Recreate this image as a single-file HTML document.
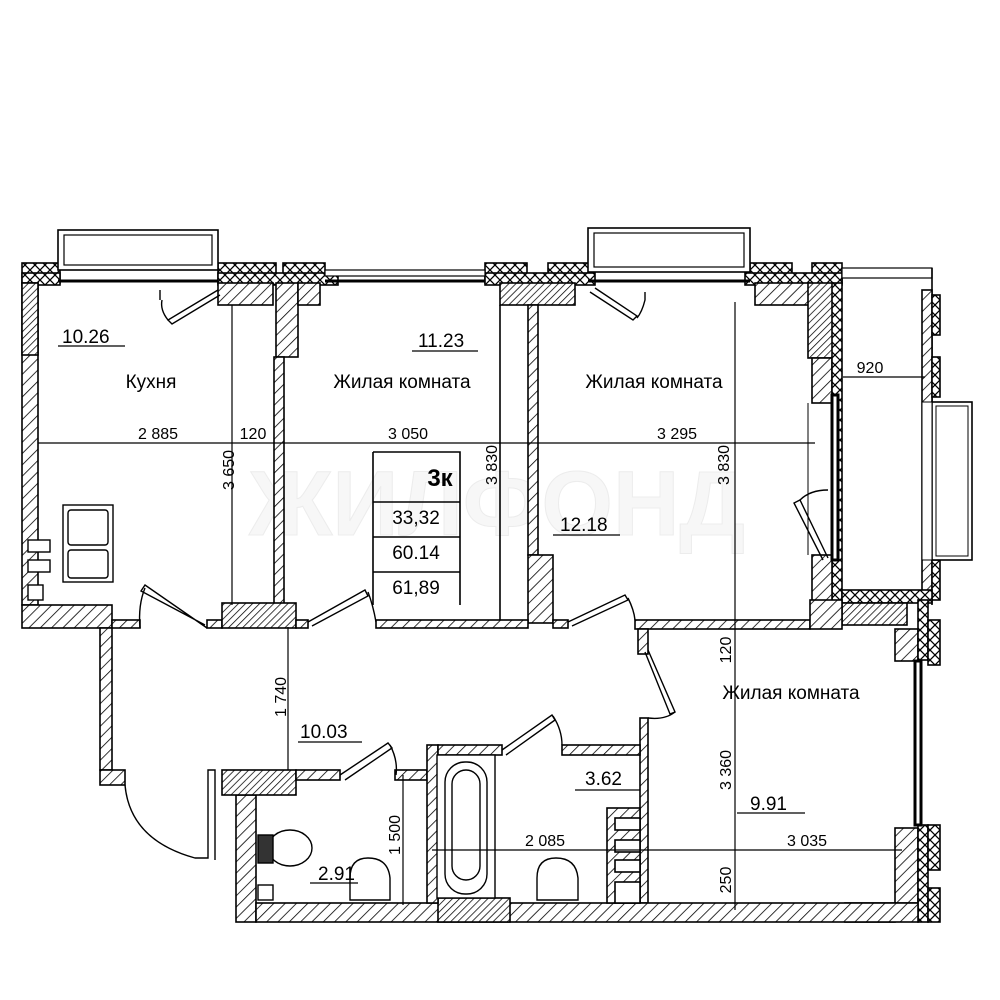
<!DOCTYPE html>
<html><head><meta charset="utf-8"><style>
html,body{margin:0;padding:0;background:#fff;}
svg{display:block;font-family:"Liberation Sans",sans-serif;}
</style></head><body>
<svg width="1000" height="1000" viewBox="0 0 1000 1000" xmlns="http://www.w3.org/2000/svg">
<defs>
<pattern id="h" width="8" height="8" patternUnits="userSpaceOnUse" patternTransform="rotate(45)">
<rect width="8" height="8" fill="#fff"/><line x1="0" y1="0" x2="0" y2="8" stroke="#000" stroke-width="1.6"/></pattern>
<pattern id="hd" width="5" height="5" patternUnits="userSpaceOnUse" patternTransform="rotate(45)">
<rect width="5" height="5" fill="#fff"/><line x1="0" y1="0" x2="0" y2="5" stroke="#000" stroke-width="1.5"/></pattern>
<pattern id="x" width="10" height="10" patternUnits="userSpaceOnUse">
<rect width="10" height="10" fill="#fff"/><path d="M0 0L10 10M10 0L0 10" stroke="#000" stroke-width="1.3"/></pattern>
</defs>
<!-- watermark -->
<text x="497" y="535" font-size="92" font-weight="bold" fill="#f7f7f7" stroke="#ececec" stroke-width="1" text-anchor="middle" font-family="Liberation Sans, sans-serif">ЖИЛФОНД</text>
<g stroke="#000" stroke-width="1.6">
<rect x="22" y="263" width="38" height="20" fill="url(#x)"/>
<rect x="218" y="263" width="58" height="20" fill="url(#x)"/>
<rect x="283" y="263" width="42" height="20" fill="url(#x)"/>
<rect x="485" y="263" width="42" height="20" fill="url(#x)"/>
<rect x="548" y="263" width="42" height="20" fill="url(#x)"/>
<rect x="750" y="263" width="42" height="20" fill="url(#x)"/>
<rect x="812" y="263" width="30" height="20" fill="url(#x)"/>
<rect x="218" y="273" width="120" height="12" fill="url(#x)"/>
<rect x="485" y="273" width="110" height="12" fill="url(#x)"/>
<rect x="745" y="273" width="97" height="12" fill="url(#x)"/>
<rect x="22" y="273" width="38" height="12" fill="url(#x)"/>
<rect x="58" y="230" width="160" height="40" fill="#fff"/>
<rect x="64" y="235" width="148" height="30" fill="none" stroke-width="1.2"/>
<line x1="58" y1="281" x2="218" y2="281" stroke-width="3"/>
<line x1="325" y1="281" x2="485" y2="281" stroke-width="3"/>
<rect x="325" y="270" width="160" height="6" fill="#fff" stroke-width="1.2"/>
<rect x="588" y="228" width="162" height="44" fill="#fff"/>
<rect x="594" y="233" width="150" height="34" fill="none" stroke-width="1.2"/>
<line x1="588" y1="281" x2="750" y2="281" stroke-width="3"/>
<rect x="218" y="283" width="55" height="22" fill="url(#h)"/>
<rect x="276" y="283" width="22" height="74" fill="url(#h)"/>
<rect x="298" y="283" width="22" height="22" fill="url(#h)"/>
<rect x="500" y="283" width="75" height="22" fill="url(#hd)"/>
<rect x="755" y="283" width="55" height="22" fill="url(#h)"/>
<rect x="808" y="283" width="25" height="75" fill="url(#hd)"/>
<rect x="812" y="358" width="20" height="45" fill="url(#h)"/>
<rect x="22" y="283" width="16" height="322" fill="url(#h)"/>
<rect x="22" y="283" width="16" height="72" fill="url(#hd)"/>
<rect x="274" y="357" width="10" height="248" fill="url(#h)"/>
<line x1="500" y1="305" x2="500" y2="620"/>
<rect x="528" y="305" width="10" height="250" fill="url(#h)"/>
<rect x="528" y="555" width="25" height="68" fill="url(#h)"/>
<rect x="832" y="283" width="10" height="320" fill="url(#x)"/>
<rect x="812" y="555" width="20" height="48" fill="url(#h)"/>
<line x1="808" y1="403" x2="808" y2="555" stroke-width="1"/>
<rect x="832" y="395" width="6" height="165" fill="#fff" stroke-width="3"/>
<rect x="842" y="268" width="90" height="10" fill="#fff" stroke-width="1.2"/>
<line x1="932" y1="268" x2="932" y2="605"/>
<rect x="922" y="290" width="10" height="310" fill="url(#h)"/>
<rect x="932" y="295" width="8" height="40" fill="url(#x)"/>
<rect x="932" y="357" width="8" height="40" fill="url(#x)"/>
<rect x="932" y="560" width="8" height="40" fill="url(#x)"/>
<rect x="932" y="402" width="40" height="158" fill="#fff"/>
<rect x="936" y="406" width="32" height="150" fill="none" stroke-width="1"/>
<rect x="922" y="402" width="10" height="158" fill="#fff" stroke-width="1"/>
<rect x="842" y="590" width="90" height="13" fill="url(#x)"/>
<rect x="842" y="603" width="65" height="22" fill="url(#hd)"/>
<rect x="22" y="605" width="90" height="23" fill="url(#h)"/>
<rect x="112" y="620" width="28" height="8" fill="url(#h)"/>
<rect x="207" y="620" width="15" height="8" fill="url(#h)"/>
<rect x="222" y="603" width="74" height="25" fill="url(#hd)"/>
<rect x="296" y="620" width="12" height="8" fill="url(#h)"/>
<rect x="376" y="620" width="152" height="8" fill="url(#h)"/>
<rect x="553" y="620" width="15" height="8" fill="url(#h)"/>
<rect x="635" y="620" width="175" height="9" fill="url(#h)"/>
<rect x="810" y="600" width="32" height="29" fill="url(#h)"/>
<rect x="100" y="628" width="12" height="142" fill="url(#h)"/>
<rect x="100" y="770" width="25" height="15" fill="url(#h)"/>
<rect x="638" y="629" width="10" height="25" fill="url(#h)"/>
<rect x="640" y="718" width="8" height="185" fill="url(#h)"/>
<rect x="895" y="629" width="23" height="32" fill="url(#h)"/>
<rect x="895" y="828" width="23" height="75" fill="url(#h)"/>
<rect x="918" y="600" width="10" height="60" fill="url(#x)"/>
<rect x="918" y="825" width="10" height="97" fill="url(#x)"/>
<rect x="928" y="620" width="12" height="45" fill="url(#x)"/>
<rect x="928" y="825" width="12" height="45" fill="url(#x)"/>
<rect x="928" y="888" width="12" height="34" fill="url(#x)"/>
<rect x="915" y="661" width="6" height="164" fill="#fff" stroke-width="3"/>
<rect x="845" y="903" width="50" height="19" fill="url(#hd)"/>
<rect x="236" y="795" width="20" height="127" fill="url(#h)"/>
<rect x="256" y="903" width="662" height="19" fill="url(#h)"/>
<rect x="438" y="898" width="72" height="24" fill="url(#hd)"/>
<rect x="222" y="770" width="74" height="25" fill="url(#hd)"/>
<rect x="296" y="770" width="44" height="10" fill="url(#h)"/>
<rect x="395" y="770" width="32" height="10" fill="url(#h)"/>
<rect x="427" y="745" width="11" height="158" fill="url(#h)"/>
<rect x="438" y="745" width="64" height="10" fill="url(#h)"/>
<rect x="562" y="745" width="78" height="10" fill="url(#h)"/>
<rect x="607" y="808" width="33" height="95" fill="url(#h)"/>
<rect x="615" y="818" width="25" height="12" fill="#fff"/>
<rect x="615" y="840" width="25" height="12" fill="#fff"/>
<rect x="615" y="860" width="25" height="12" fill="#fff"/>
<rect x="615" y="882" width="25" height="21" fill="#fff"/>
</g>
<g stroke="#000" stroke-width="1.4" fill="none">
<path d="M218 290 L168 320 L172 324 L220 295"/><path d="M160 290 L160 300 M168 320 Q160 310 162 300"/>
<path d="M590 292 L633 320 L637 316 L595 288"/><path d="M645 292 L645 300 Q642 312 637 318"/>
<path d="M207 628 L145 585 L141 591 L205 625"/><path d="M145 588 Q138 605 140 628"/>
<path d="M308 622 L365 590 L368 596 L312 626"/><path d="M368 592 Q373 605 376 622"/>
<path d="M568 622 L625 595 L628 600 L572 626"/><path d="M628 598 Q634 610 635 620"/>
<path d="M648 650 L675 712 L670 714 L645 652"/><path d="M675 712 Q665 720 648 718"/>
<path d="M340 775 L388 743 L392 748 L345 780"/><path d="M390 745 Q398 760 396 775"/>
<path d="M502 750 L552 715 L555 720 L506 755"/><path d="M553 716 Q562 730 562 745"/>
<path d="M125 785 Q130 840 195 858 L208 858 L208 770 L215 770 L215 860"/>
<path d="M828 558 L800 500 L794 503 L823 560"/><path d="M800 500 Q810 490 828 490"/>
</g>
<g stroke="#000" stroke-width="1.4" fill="#fff">
<rect x="63" y="505" width="50" height="77"/><rect x="68" y="510" width="40" height="35" rx="3"/><rect x="68" y="550" width="40" height="28" rx="3"/>
<rect x="28" y="540" width="22" height="12"/><rect x="28" y="560" width="22" height="12"/>
<rect x="28" y="585" width="15" height="15"/>
<rect x="437" y="755" width="58" height="143"/><rect x="445" y="762" width="42" height="132" rx="20"/><rect x="452" y="770" width="28" height="110" rx="14"/>
<path d="M350 900 L350 878 Q350 858 368 858 Q388 858 390 878 L390 900 Z"/>
<path d="M537 900 L537 878 Q537 858 556 858 Q576 858 578 878 L578 900 Z"/>
<ellipse cx="290" cy="848" rx="22" ry="18"/><rect x="258" y="835" width="15" height="28" fill="#333"/>
<rect x="258" y="885" width="15" height="15"/>
</g>
<g stroke="#000" stroke-width="1.2">
<line x1="38" y1="443" x2="815" y2="443"/>
<line x1="232" y1="305" x2="232" y2="605"/>
<line x1="735" y1="302" x2="735" y2="910"/>
<line x1="843" y1="377" x2="925" y2="377"/>
<line x1="288" y1="627" x2="288" y2="770"/>
<line x1="403" y1="775" x2="403" y2="905"/>
<line x1="432" y1="850" x2="902" y2="850"/>
<line x1="58" y1="346" x2="125" y2="346"/>
<line x1="412" y1="351" x2="478" y2="351"/>
<line x1="553" y1="535" x2="620" y2="535"/>
<line x1="298" y1="742" x2="362" y2="742"/>
<line x1="575" y1="790" x2="640" y2="790"/>
<line x1="737" y1="813" x2="805" y2="813"/>
<line x1="310" y1="883" x2="358" y2="883"/>
</g>
<g stroke="#000" stroke-width="1.6" fill="none">
<path d="M373 452 H460 V605 M373 452 V502 H460 M373 502 V605 M373 537 H460 M373 572 H460"/>
</g>
<g font-size="19" fill="#000">
<text x="62" y="343">10.26</text>
<text x="151" y="388" text-anchor="middle">Кухня</text>
<text x="418" y="347">11.23</text>
<text x="402" y="388" text-anchor="middle">Жилая комната</text>
<text x="654" y="388" text-anchor="middle">Жилая комната</text>
<text x="560" y="531">12.18</text>
<text x="791" y="699" text-anchor="middle">Жилая комната</text>
<text x="300" y="738">10.03</text>
<text x="585" y="785">3.62</text>
<text x="750" y="810">9.91</text>
<text x="318" y="880">2.91</text>
<text x="416" y="594" text-anchor="middle">61,89</text>
<text x="416" y="559" text-anchor="middle">60.14</text>
<text x="416" y="524" text-anchor="middle">33,32</text>
<text x="440" y="486" text-anchor="middle" font-weight="bold" font-size="24">3к</text>
</g>
<g font-size="16" fill="#000">
<text x="158" y="439" text-anchor="middle">2 885</text>
<text x="253" y="439" text-anchor="middle">120</text>
<text x="408" y="439" text-anchor="middle">3 050</text>
<text x="677" y="439" text-anchor="middle">3 295</text>
<text x="870" y="373" text-anchor="middle">920</text>
<text x="545" y="846" text-anchor="middle">2 085</text>
<text x="807" y="846" text-anchor="middle">3 035</text>
<text transform="translate(234,470) rotate(-90)" text-anchor="middle">3 650</text>
<text transform="translate(497,465) rotate(-90)" text-anchor="middle">3 830</text>
<text transform="translate(729,465) rotate(-90)" text-anchor="middle">3 830</text>
<text transform="translate(286,697) rotate(-90)" text-anchor="middle">1 740</text>
<text transform="translate(731,650) rotate(-90)" text-anchor="middle">120</text>
<text transform="translate(731,770) rotate(-90)" text-anchor="middle">3 360</text>
<text transform="translate(731,880) rotate(-90)" text-anchor="middle">250</text>
<text transform="translate(400,835) rotate(-90)" text-anchor="middle">1 500</text>
</g>
</svg>
</body></html>
